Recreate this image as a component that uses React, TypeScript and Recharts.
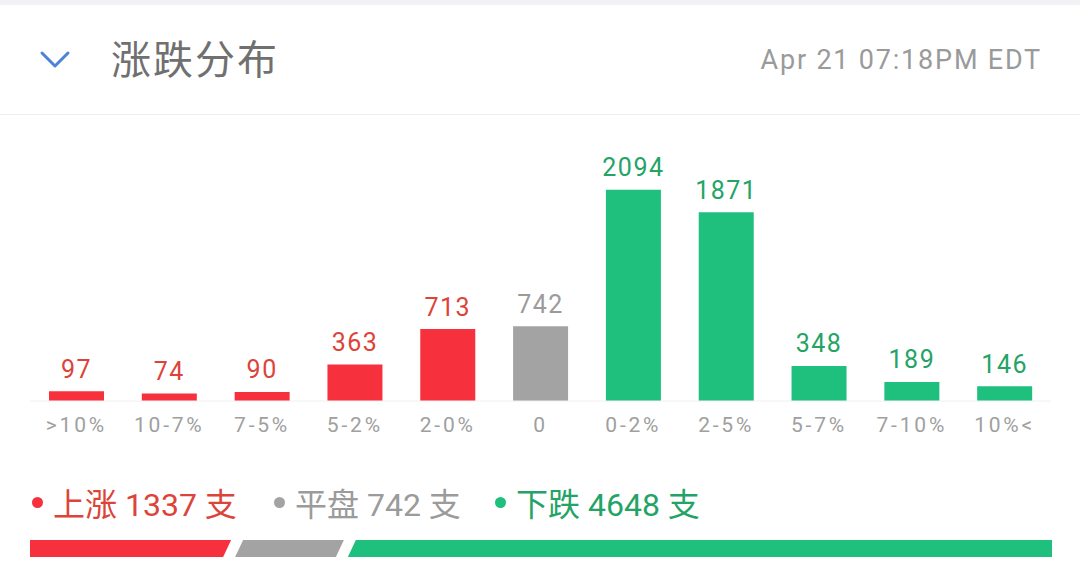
import React from 'react';
import { BarChart, Bar, XAxis, YAxis, Cell, LabelList } from 'recharts';

const categories = ['>10%', '10-7%', '7-5%', '5-2%', '2-0%', '0', '0-2%', '2-5%', '5-7%', '7-10%', '10%<'];
const counts = [97, 74, 90, 363, 713, 742, 2094, 1871, 348, 189, 146];
const direction = ['up', 'up', 'up', 'up', 'up', 'flat', 'down', 'down', 'down', 'down', 'down'];

const summaryKeys = ['up', 'flat', 'down'];
const summaryLabels = ['上涨', '平盘', '下跌'];
const summaryCounts = [1337, 742, 4648];

const title = '涨跌分布';
const timestamp = 'Apr 21 07:18PM EDT';

const barColor: Record<string, string> = { up: '#f7303d', flat: '#a3a3a3', down: '#1fbf7d' };
const textColor: Record<string, string> = { up: '#dc4439', flat: '#9b9b9b', down: '#23a466' };

const FONT = "Roboto, 'Noto Sans CJK SC', sans-serif";

const chartData = categories.map((name, i) => ({ name, count: counts[i], dir: direction[i] }));
const summaryData = [
  summaryKeys.reduce((acc: any, k, i) => ({ ...acc, [k]: summaryCounts[i] }), { name: 'all' }),
];
const total = summaryCounts.reduce((a, b) => a + b, 0);

function ValueLabel(props: any) {
  const { x, y, width, value, index } = props;
  return (
    <text
      x={x + width / 2}
      y={y - 22}
      textAnchor="middle"
      dominantBaseline="central"
      fill={textColor[direction[index]]}
      fontSize={25}
      fontFamily={FONT}
      letterSpacing={1.5}
    >
      {value}
    </text>
  );
}

function CategoryTick(props: any) {
  const { x, y, payload } = props;
  return (
    <text
      x={x}
      y={y + 16}
      textAnchor="middle"
      dominantBaseline="central"
      fill="#a0a0a0"
      fontSize={21}
      fontFamily={FONT}
      letterSpacing={2.8}
    >
      {payload.value}
    </text>
  );
}

const SKEW = 8;
const GAP = 6;

function Slant(props: any) {
  const { x, y, width, height, fill, pos } = props;
  const h = height;
  const leftTop = pos === 'first' ? x : x + GAP + SKEW / 2;
  const leftBot = pos === 'first' ? x : x + GAP - SKEW / 2;
  const rightTop = pos === 'last' ? x + width : x + width - GAP + SKEW / 2;
  const rightBot = pos === 'last' ? x + width : x + width - GAP - SKEW / 2;
  const pts = `${leftTop},${y} ${rightTop},${y} ${rightBot},${y + h} ${leftBot},${y + h}`;
  return <polygon points={pts} fill={fill} />;
}

export default function App() {
  return (
    <div
      style={{
        position: 'fixed',
        left: 0,
        top: 0,
        width: 1080,
        height: 566,
        background: '#ffffff',
        overflow: 'hidden',
        fontFamily: FONT,
      }}
    >
      <div style={{ position: 'absolute', left: 0, top: 0, width: 1080, height: 5, background: '#f2f2f6' }} />
      <svg style={{ position: 'absolute', left: 0, top: 0 }} width={100} height={110}>
        <polyline points="42,53 55,66 68,53" fill="none" stroke="#4d82d6" strokeWidth={3} strokeLinecap="round" strokeLinejoin="round" />
      </svg>
      <div
        style={{
          position: 'absolute',
          left: 111,
          top: 36,
          fontSize: 40,
          lineHeight: '50px',
          color: '#707070',
          letterSpacing: 2,
        }}
      >
        {title}
      </div>
      <div
        style={{
          position: 'absolute',
          right: 38,
          top: 42,
          fontSize: 27,
          lineHeight: '36px',
          color: '#9a9a9a',
          letterSpacing: 1.8,
        }}
      >
        {timestamp}
      </div>
      <div style={{ position: 'absolute', left: 0, top: 114, width: 1080, height: 1, background: '#eeeeee' }} />

      <div style={{ position: 'absolute', left: 0, top: 0 }}>
        <BarChart width={1080} height={450} data={chartData} margin={{ top: 159, right: 29, left: 30, bottom: 0 }} barSize={55}>
          <XAxis
            dataKey="name"
            axisLine={{ stroke: '#f0f0f0', strokeWidth: 1 }}
            tickLine={false}
            tick={<CategoryTick />}
            interval={0}
            height={49}
          />
          <YAxis hide domain={[0, 2400]} />
          <Bar dataKey="count" isAnimationActive={false}>
            {chartData.map((d, i) => (
              <Cell key={i} fill={barColor[d.dir]} />
            ))}
            <LabelList dataKey="count" content={<ValueLabel />} />
          </Bar>
        </BarChart>
      </div>

      {summaryKeys.map((k, i) => {
        const lefts = [32, 274, 495];
        return (
          <div
            key={k}
            style={{
              position: 'absolute',
              left: lefts[i],
              top: 482,
              height: 40,
              display: 'flex',
              alignItems: 'center',
              fontSize: 32,
              color: textColor[k],
              whiteSpace: 'pre',
            }}
          >
            <span
              style={{
                display: 'inline-block',
                width: 11,
                height: 11,
                borderRadius: '50%',
                background: barColor[k],
                marginRight: 10,
              }}
            />
            {`${summaryLabels[i]} ${summaryCounts[i]} 支`}
          </div>
        );
      })}

      <div style={{ position: 'absolute', left: 0, top: 540 }}>
        <BarChart
          width={1080}
          height={17}
          data={summaryData}
          layout="vertical"
          margin={{ top: 0, right: 28, left: 30, bottom: 0 }}
          barCategoryGap={0}
        >
          <XAxis type="number" hide domain={[0, total]} />
          <YAxis type="category" dataKey="name" hide />
          {summaryKeys.map((k, i) => (
            <Bar
              key={k}
              dataKey={k}
              stackId="s"
              fill={barColor[k]}
              isAnimationActive={false}
              shape={(p: any) => <Slant {...p} pos={i === 0 ? 'first' : i === summaryKeys.length - 1 ? 'last' : 'mid'} />}
            />
          ))}
        </BarChart>
      </div>
    </div>
  );
}
